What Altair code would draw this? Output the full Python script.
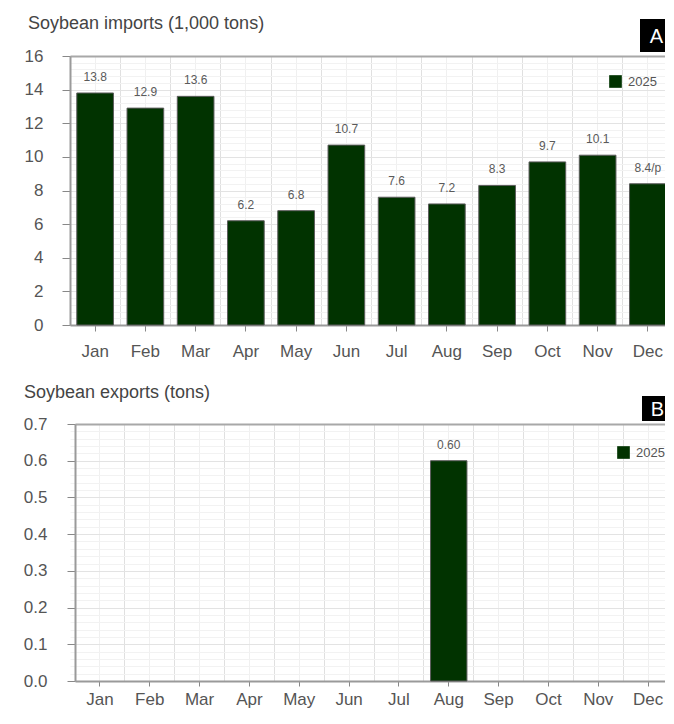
import altair as alt
import pandas as pd

months = ["Jan", "Feb", "Mar", "Apr", "May", "Jun", "Jul", "Aug", "Sep", "Oct", "Nov", "Dec"]
year = "2025"
imports_2025 = [13.8, 12.9, 13.6, 6.2, 6.8, 10.7, 7.6, 7.2, 8.3, 9.7, 10.1, 8.4]
import_labels = ["13.8", "12.9", "13.6", "6.2", "6.8", "10.7", "7.6", "7.2", "8.3", "9.7", "10.1", "8.4/p"]
exports_2025 = [None, None, None, None, None, None, None, 0.60, None, None, None, None]
export_labels = ["", "", "", "", "", "", "", "0.60", "", "", "", ""]

FONT = "Liberation Sans"
BAR = "#013300"
TXT = "#555555"


def panel(values, labels, ymax, major, minor, fmt, width, height, shift, extent,
          title, title_xy, badge, badge_box, legend_xy, lab_pad, tick_x, y_lab_pad):
    df = pd.DataFrame({"month": months, "value": values, "label": labels, "year": year})
    xscale = alt.Scale(domain=months, paddingInner=0, paddingOuter=0, range=[shift, width])
    yscale = alt.Scale(domain=[0, ymax], nice=False, zero=True)

    bars = alt.Chart(df).transform_filter("isValid(datum.value)").mark_bar(
        width=alt.RelativeBandSize(0.73), stroke="#5c5c5c", strokeWidth=1
    ).encode(
        x=alt.X("month:N", sort=months, scale=xscale, axis=alt.Axis(
            orient="bottom", title=None, labelAngle=0, labelFontSize=17, labelColor=TXT,
            labelPadding=lab_pad, tickSize=tick_x, tickColor="#888888", domainColor="#9a9a9a",
            domainWidth=2, grid=True, gridColor="#f0f0f0", gridWidth=1)),
        y=alt.Y("value:Q", scale=yscale, axis=alt.Axis(
            orient="left", title=None, values=major, format=fmt, labelFontSize=17,
            labelColor=TXT, labelPadding=y_lab_pad, tickSize=8, tickColor="#888888",
            domainColor="#9a9a9a", domainWidth=2, grid=True, gridColor="#e3e3e3",
            offset=-shift, minExtent=extent, maxExtent=extent)),
        color=alt.Color("year:N", scale=alt.Scale(range=[BAR]), legend=alt.Legend(
            orient="none", legendX=legend_xy[0], legendY=legend_xy[1], title=None,
            symbolType="square", symbolSize=160, symbolStrokeWidth=0,
            labelFontSize=13, labelColor=TXT, labelOffset=6)),
    )

    texts = alt.Chart(df).transform_filter("isValid(datum.value)").mark_text(
        dy=-16, fontSize=12, color="#5a5a5a", baseline="middle", align="center"
    ).encode(
        x=alt.X("month:N", sort=months, scale=xscale, axis=alt.Axis(
            orient="top", title=None, labels=False, ticks=False, domain=True,
            domainColor="#a8a8a8", domainWidth=2, grid=True, gridColor="#e0e0e0",
            bandPosition=0, minExtent=0, maxExtent=0)),
        y=alt.Y("value:Q", scale=yscale, axis=alt.Axis(
            orient="right", title=None, labels=False, ticks=False, domain=False,
            grid=True, gridColor="#f2f2f2", values=minor, minExtent=0, maxExtent=0)),
        text="label:N",
    )

    tdf = pd.DataFrame({"t": [title]})
    ttl = alt.Chart(tdf).mark_text(align="left", baseline="middle", fontSize=18,
                                   color="#444444").encode(
        x=alt.value(title_xy[0]), y=alt.value(title_xy[1]), text="t:N")

    bdf = pd.DataFrame({"b": [badge]})
    brect = alt.Chart(bdf).mark_rect(color="black").encode(
        x=alt.value(badge_box[0]), x2=alt.value(badge_box[1]),
        y=alt.value(badge_box[2]), y2=alt.value(badge_box[3]))
    btxt = alt.Chart(bdf).mark_text(color="white", fontSize=20, align="center",
                                    baseline="middle").encode(
        x=alt.value((badge_box[0] + badge_box[1]) / 2),
        y=alt.value((badge_box[2] + badge_box[3]) / 2 + 1), text="b:N")

    return alt.layer(bars, texts, ttl, brect, btxt).resolve_axis(
        x="independent", y="independent").properties(width=width, height=height)


major_a = [0, 2, 4, 6, 8, 10, 12, 14, 16]
minor_a = [round(i * 0.4, 2) for i in range(41) if i % 5 != 0]
major_b = [0, 0.1, 0.2, 0.3, 0.4, 0.5, 0.6, 0.7]
minor_b = [round(i * 0.02, 3) for i in range(36) if i % 5 != 0]

a = panel(imports_2025, import_labels, 16, major_a, minor_a, "d", 603, 269, 0, 62,
          "Soybean imports (1,000 tons)", (-42, -32), "A", (570, 603, -37, -4),
          (539, 19), 12, 6, 19)
b = panel(exports_2025, export_labels, 0.7, major_b, minor_b, ".1f", 603, 257, 5, 62,
          "Soybean exports (tons)", (-46, -31), "B", (572, 603, -28, -3),
          (547, 22), 5, 5, 20)

chart = alt.concat(a, b, columns=1, spacing=25, align="none").resolve_scale(
    color="independent", x="independent", y="independent"
).properties(
    padding={"top": 7, "left": 0, "right": -8, "bottom": 1}
).configure(font=FONT).configure_view(stroke=None)

chart.save("out.html", embed_options={"renderer": "svg", "actions": False})
